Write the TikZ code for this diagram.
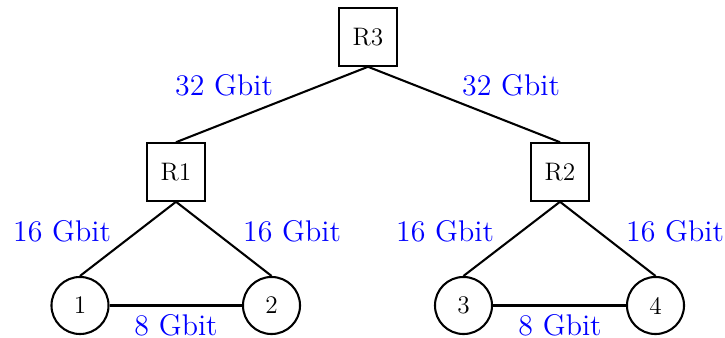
\documentclass[tikz,border=0pt]{standalone}
\begin{document}
\begin{tikzpicture}[x=0.4348pt,y=-0.4348pt,
  router/.style={draw,line width=0.9pt,minimum size=25pt,inner sep=0pt,font=\fontsize{11}{13}\selectfont},
  host/.style={draw,circle,line width=0.9pt,minimum size=24.8pt,inner sep=0pt,font=\fontsize{11}{13}\selectfont},
  link/.style={line width=0.9pt},
  rate/.style={text=blue,font=\fontsize{13}{15}\selectfont}]
\useasboundingbox (0,0) rectangle (725,338);
\node[router] (R3) at (368,37) {R3};
\node[router] (R1) at (176,172) {R1};
\node[router] (R2) at (560,172) {R2};
\node[host] (h1) at (80,305.5) {1};
\node[host] (h2) at (271.5,305.5) {2};
\node[host] (h3) at (463.5,305.5) {3};
\node[host] (h4) at (655.5,305.5) {4};
\draw[link] (R3.south) -- (R1.north);
\draw[link] (R3.south) -- (R2.north);
\draw[link] (R1.south) -- (h1.north);
\draw[link] (R1.south) -- (h2.north);
\draw[link] (R2.south) -- (h3.north);
\draw[link] (R2.south) -- (h4.north);
\draw[link] (h1.east) -- (h2.west);
\draw[link] (h3.east) -- (h4.west);
\node[rate] (l1) at (224,85) {32 Gbit};
\node[rate] (l2) at (511,85) {32 Gbit};
\node[rate] (l3) at (62,231) {16 Gbit};
\node[rate] (l4) at (292,231) {16 Gbit};
\node[rate] (l5) at (445,231) {16 Gbit};
\node[rate] (l6) at (675,231) {16 Gbit};
\node[rate] (l7) at (176,325) {8 Gbit};
\node[rate] (l8) at (560,325) {8 Gbit};
\end{tikzpicture}
\end{document}
